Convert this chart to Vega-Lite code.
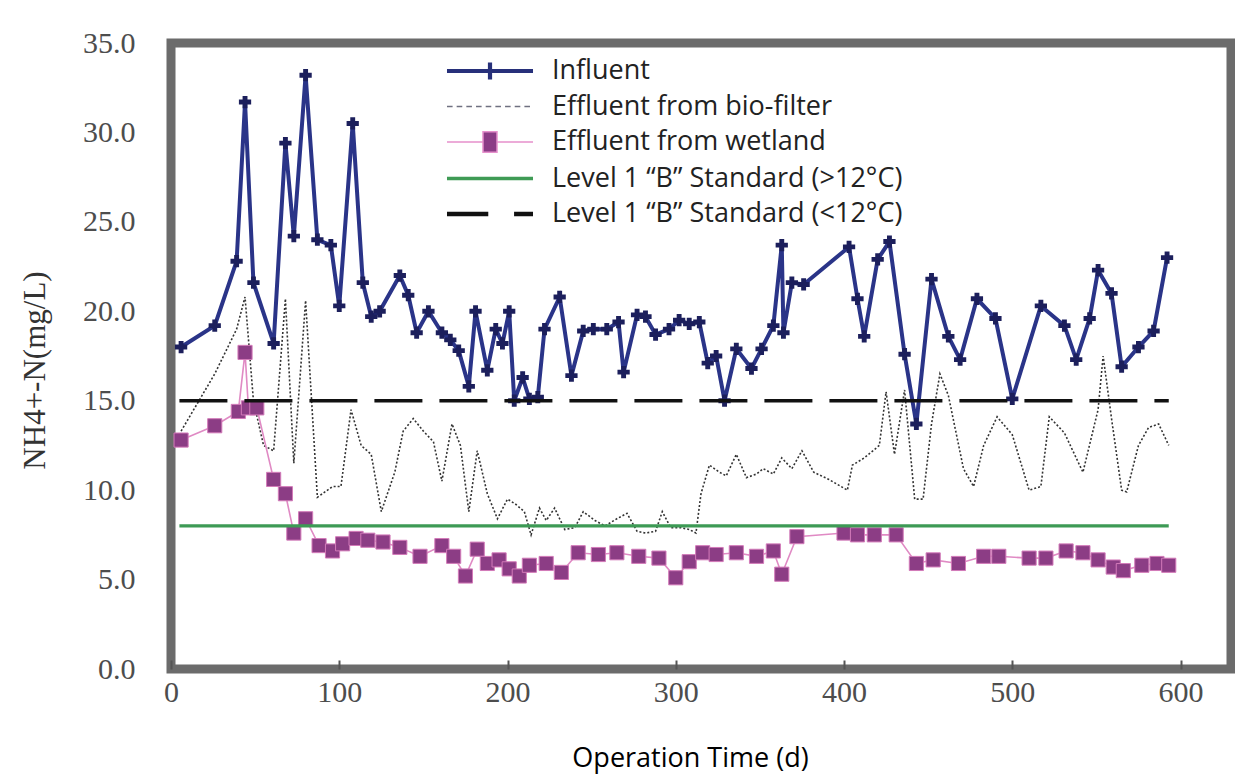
{
  "$schema": "https://vega.github.io/schema/vega-lite/v6.json",
  "width": 1060,
  "height": 626,
  "autosize": {"type": "none"},
  "padding": {"left": 171, "top": 43, "right": 4, "bottom": 109},
  "background": "white",
  "config": {
    "view": {"stroke": "#6b6b6b", "strokeWidth": 9},
    "axis": {"grid": false, "domain": false, "ticks": false},
    "legend": {"symbolFillColor": "#000000", "symbolOpacity": 1}
  },
  "datasets": {
    "influent": [
      {"day": 6, "value": 18.0}, {"day": 26, "value": 19.2}, {"day": 39, "value": 22.8}, {"day": 44, "value": 31.7},
      {"day": 49, "value": 21.6}, {"day": 61, "value": 18.2}, {"day": 68, "value": 29.4}, {"day": 73, "value": 24.2},
      {"day": 80, "value": 33.2}, {"day": 87, "value": 24.0}, {"day": 95, "value": 23.7}, {"day": 100, "value": 20.3},
      {"day": 108, "value": 30.5}, {"day": 114, "value": 21.6}, {"day": 119, "value": 19.7}, {"day": 124, "value": 20.0},
      {"day": 136, "value": 22.0}, {"day": 141, "value": 20.9}, {"day": 146, "value": 18.8}, {"day": 153, "value": 20.0},
      {"day": 161, "value": 18.8}, {"day": 166, "value": 18.4}, {"day": 171, "value": 17.8}, {"day": 177, "value": 15.8},
      {"day": 181, "value": 20.0}, {"day": 188, "value": 16.7}, {"day": 193, "value": 19.0}, {"day": 197, "value": 18.2},
      {"day": 201, "value": 20.0}, {"day": 204, "value": 15.0}, {"day": 209, "value": 16.3}, {"day": 213, "value": 15.1},
      {"day": 218, "value": 15.2}, {"day": 222, "value": 19.0}, {"day": 231, "value": 20.8}, {"day": 238, "value": 16.4},
      {"day": 245, "value": 18.9}, {"day": 251, "value": 19.0}, {"day": 259, "value": 19.0}, {"day": 266, "value": 19.4},
      {"day": 269, "value": 16.6}, {"day": 277, "value": 19.8}, {"day": 282, "value": 19.7}, {"day": 288, "value": 18.7},
      {"day": 296, "value": 19.0}, {"day": 302, "value": 19.5}, {"day": 308, "value": 19.3}, {"day": 314, "value": 19.4},
      {"day": 319, "value": 17.1}, {"day": 324, "value": 17.5}, {"day": 329, "value": 15.0}, {"day": 336, "value": 17.9},
      {"day": 345, "value": 16.8}, {"day": 351, "value": 17.9}, {"day": 358, "value": 19.2}, {"day": 363, "value": 23.7},
      {"day": 364, "value": 18.8}, {"day": 369, "value": 21.6}, {"day": 376, "value": 21.5}, {"day": 403, "value": 23.6},
      {"day": 408, "value": 20.7}, {"day": 412, "value": 18.6}, {"day": 420, "value": 22.9}, {"day": 427, "value": 23.9},
      {"day": 436, "value": 17.6}, {"day": 443, "value": 13.7}, {"day": 452, "value": 21.8}, {"day": 462, "value": 18.6},
      {"day": 469, "value": 17.3}, {"day": 479, "value": 20.7}, {"day": 490, "value": 19.6}, {"day": 500, "value": 15.1},
      {"day": 517, "value": 20.3}, {"day": 531, "value": 19.2}, {"day": 538, "value": 17.3}, {"day": 546, "value": 19.6},
      {"day": 551, "value": 22.3}, {"day": 559, "value": 21.0}, {"day": 565, "value": 16.9}, {"day": 575, "value": 18.0},
      {"day": 584, "value": 18.9}, {"day": 592, "value": 23.0}
    ],
    "biofilter": [
      {"day": 6, "value": 13.3}, {"day": 26, "value": 16.5}, {"day": 39, "value": 19.0}, {"day": 44, "value": 20.8},
      {"day": 49, "value": 15.0}, {"day": 55, "value": 12.5}, {"day": 61, "value": 12.2}, {"day": 68, "value": 20.7},
      {"day": 73, "value": 11.5}, {"day": 80, "value": 20.6}, {"day": 87, "value": 9.6}, {"day": 96, "value": 10.2},
      {"day": 101, "value": 10.2}, {"day": 107, "value": 14.5}, {"day": 113, "value": 12.5}, {"day": 119, "value": 12.0},
      {"day": 125, "value": 8.8}, {"day": 133, "value": 11.0}, {"day": 138, "value": 13.3}, {"day": 144, "value": 14.0},
      {"day": 150, "value": 13.3}, {"day": 156, "value": 12.7}, {"day": 161, "value": 10.5}, {"day": 167, "value": 13.7},
      {"day": 172, "value": 12.5}, {"day": 177, "value": 8.8}, {"day": 182, "value": 12.2}, {"day": 188, "value": 9.8},
      {"day": 194, "value": 8.4}, {"day": 200, "value": 9.5}, {"day": 205, "value": 9.2}, {"day": 210, "value": 8.8},
      {"day": 214, "value": 7.5}, {"day": 219, "value": 9.0}, {"day": 223, "value": 8.3}, {"day": 228, "value": 9.0},
      {"day": 234, "value": 7.8}, {"day": 240, "value": 7.9}, {"day": 245, "value": 8.8}, {"day": 252, "value": 8.3},
      {"day": 258, "value": 8.0}, {"day": 265, "value": 8.4}, {"day": 271, "value": 8.7}, {"day": 277, "value": 7.7},
      {"day": 282, "value": 7.6}, {"day": 288, "value": 7.7}, {"day": 292, "value": 8.8}, {"day": 297, "value": 7.9},
      {"day": 303, "value": 7.9}, {"day": 308, "value": 7.8}, {"day": 312, "value": 7.6}, {"day": 315, "value": 9.8},
      {"day": 320, "value": 11.4}, {"day": 326, "value": 11.0}, {"day": 330, "value": 10.8}, {"day": 336, "value": 12.0},
      {"day": 342, "value": 10.7}, {"day": 348, "value": 10.9}, {"day": 352, "value": 11.2}, {"day": 358, "value": 10.9},
      {"day": 363, "value": 11.8}, {"day": 369, "value": 11.2}, {"day": 375, "value": 12.2}, {"day": 382, "value": 11.0},
      {"day": 391, "value": 10.6}, {"day": 402, "value": 10.0}, {"day": 405, "value": 11.4}, {"day": 412, "value": 11.8},
      {"day": 421, "value": 12.5}, {"day": 425, "value": 15.5}, {"day": 430, "value": 12.0}, {"day": 436, "value": 15.6},
      {"day": 442, "value": 9.5}, {"day": 447, "value": 9.5}, {"day": 452, "value": 13.7}, {"day": 457, "value": 16.5},
      {"day": 462, "value": 15.3}, {"day": 471, "value": 11.2}, {"day": 477, "value": 10.2}, {"day": 483, "value": 12.5},
      {"day": 491, "value": 14.1}, {"day": 500, "value": 13.1}, {"day": 510, "value": 10.0}, {"day": 517, "value": 10.2},
      {"day": 522, "value": 14.1}, {"day": 531, "value": 13.2}, {"day": 542, "value": 11.0}, {"day": 551, "value": 14.5},
      {"day": 554, "value": 17.5}, {"day": 559, "value": 14.0}, {"day": 565, "value": 10.0}, {"day": 568, "value": 9.9},
      {"day": 575, "value": 12.5}, {"day": 581, "value": 13.5}, {"day": 587, "value": 13.7}, {"day": 593, "value": 12.5}
    ],
    "wetland": [
      {"day": 6, "value": 12.8}, {"day": 26, "value": 13.6}, {"day": 40, "value": 14.4}, {"day": 44, "value": 17.7},
      {"day": 46, "value": 14.6}, {"day": 51, "value": 14.6}, {"day": 61, "value": 10.6}, {"day": 68, "value": 9.8},
      {"day": 73, "value": 7.6}, {"day": 80, "value": 8.4}, {"day": 88, "value": 6.9}, {"day": 96, "value": 6.6},
      {"day": 102, "value": 7.0}, {"day": 110, "value": 7.3}, {"day": 117, "value": 7.2}, {"day": 126, "value": 7.1},
      {"day": 136, "value": 6.8}, {"day": 148, "value": 6.3}, {"day": 161, "value": 6.9}, {"day": 168, "value": 6.3},
      {"day": 175, "value": 5.2}, {"day": 182, "value": 6.7}, {"day": 188, "value": 5.9}, {"day": 195, "value": 6.1},
      {"day": 201, "value": 5.6}, {"day": 207, "value": 5.2}, {"day": 213, "value": 5.8}, {"day": 223, "value": 5.9},
      {"day": 232, "value": 5.4}, {"day": 242, "value": 6.5}, {"day": 254, "value": 6.4}, {"day": 265, "value": 6.5},
      {"day": 278, "value": 6.3}, {"day": 290, "value": 6.2}, {"day": 300, "value": 5.1}, {"day": 308, "value": 6.0},
      {"day": 316, "value": 6.5}, {"day": 324, "value": 6.4}, {"day": 336, "value": 6.5}, {"day": 348, "value": 6.3},
      {"day": 358, "value": 6.6}, {"day": 363, "value": 5.3}, {"day": 372, "value": 7.4}, {"day": 400, "value": 7.6},
      {"day": 408, "value": 7.5}, {"day": 418, "value": 7.5}, {"day": 431, "value": 7.5}, {"day": 443, "value": 5.9},
      {"day": 453, "value": 6.1}, {"day": 468, "value": 5.9}, {"day": 483, "value": 6.3}, {"day": 492, "value": 6.3},
      {"day": 510, "value": 6.2}, {"day": 520, "value": 6.2}, {"day": 532, "value": 6.6}, {"day": 542, "value": 6.5},
      {"day": 551, "value": 6.1}, {"day": 560, "value": 5.7}, {"day": 566, "value": 5.5}, {"day": 577, "value": 5.8},
      {"day": 586, "value": 5.9}, {"day": 593, "value": 5.8}
    ],
    "standardWarm": [{"day": 5, "value": 8.0}, {"day": 593, "value": 8.0}],
    "standardCold": [{"day": 5, "value": 15.0}, {"day": 593, "value": 15.0}],
    "legendItems": [
      {"series": "Influent"},
      {"series": "Effluent from bio-filter"},
      {"series": "Effluent from wetland"},
      {"series": "Level 1 “B” Standard (>12°C)"},
      {"series": "Level 1 “B” Standard (<12°C)"}
    ]
  },
  "encoding": {
    "x": {
      "field": "day", "type": "quantitative",
      "scale": {"domain": [0, 630], "nice": false, "zero": false},
      "axis": {
        "values": [0, 100, 200, 300, 400, 500, 600],
        "ticks": true, "tickSize": -9, "tickWidth": 2, "tickColor": "#555555",
        "labelFont": "Liberation Serif", "labelFontSize": 30, "labelColor": "#4d4d4d",
        "labelPadding": 17, "labelFlush": false,
        "title": "Operation Time (d)", "titleFont": "Open Sans", "titleFontSize": 27,
        "titleFontWeight": "normal", "titleColor": "#000000",
        "titleX": 519, "titleY": 89, "titleBaseline": "middle", "titleAlign": "center"
      }
    },
    "y": {
      "field": "value", "type": "quantitative",
      "scale": {"domain": [0, 35], "nice": false, "zero": true},
      "axis": {
        "values": [0, 5, 10, 15, 20, 25, 30, 35], "format": ".1f",
        "labelFont": "Liberation Serif", "labelFontSize": 30, "labelColor": "#4d4d4d",
        "labelPadding": 36, "labelFlush": false,
        "title": "NH4+-N(mg/L)", "titleFont": "Liberation Serif", "titleFontSize": 31,
        "titleFontWeight": "normal", "titleColor": "#333333",
        "titleAngle": -90, "titleX": -136, "titleY": 327, "titleBaseline": "middle", "titleAlign": "center"
      }
    }
  },
  "layer": [
    {
      "data": {"name": "influent"},
      "mark": {"type": "line", "color": "#2a3488", "strokeWidth": 4,
               "point": {"shape": "cross", "filled": true, "size": 150, "color": "#1c1f5c"}}
    },
    {
      "data": {"name": "biofilter"},
      "mark": {"type": "line", "color": "#333333", "strokeWidth": 1.6, "strokeDash": [2, 2]}
    },
    {
      "data": {"name": "wetland"},
      "mark": {"type": "line", "color": "#e08ac4", "strokeWidth": 1.6,
               "point": {"shape": "square", "filled": true, "size": 200, "fill": "#8c3d85", "stroke": "#d37ab9", "strokeWidth": 1}}
    },
    {
      "data": {"name": "standardWarm"},
      "mark": {"type": "line", "color": "#3d9a55", "strokeWidth": 3.2}
    },
    {
      "data": {"name": "standardCold"},
      "mark": {"type": "line", "color": "#111111", "strokeWidth": 3.5, "strokeDash": [48, 17]}
    },
    {
      "data": {"name": "legendItems"},
      "mark": {"type": "point", "filled": true},
      "encoding": {
        "fill": {
          "field": "series", "type": "nominal",
          "scale": {
            "domain": ["Influent", "Effluent from bio-filter", "Effluent from wetland", "Level 1 “B” Standard (>12°C)", "Level 1 “B” Standard (<12°C)"],
            "range": ["#27307a", "#6f7080", "#8b3c86", "#3f9b55", "#111111"]
          },
          "legend": {
            "orient": "none", "direction": "vertical", "legendX": 275, "legendY": 12,
            "title": null, "padding": 0, "symbolSize": 900, "symbolStrokeWidth": 1.5, "symbolOffset": 28,
            "labelFont": "Open Sans", "labelFontSize": 27, "labelColor": "#222222",
            "labelOffset": 46, "rowPadding": 6.5, "labelLimit": 600
          }
        },
        "stroke": {
          "field": "series", "type": "nominal",
          "scale": {
            "domain": ["Influent", "Effluent from bio-filter", "Effluent from wetland", "Level 1 “B” Standard (>12°C)", "Level 1 “B” Standard (<12°C)"],
            "range": ["transparent", "transparent", "#e690cc", "transparent", "transparent"]
          }
        },
        "shape": {
          "field": "series", "type": "nominal",
          "scale": {
            "domain": ["Influent", "Effluent from bio-filter", "Effluent from wetland", "Level 1 “B” Standard (>12°C)", "Level 1 “B” Standard (<12°C)"],
            "range": [
              "M-2.867,-0.133H2.867V0.133H-2.867Z M-0.14,-0.567H0.14V0.567H-0.14Z",
              "M-2.867,-0.057H-2.494V0.057H-2.867Z M-2.222,-0.057H-1.849V0.057H-2.222Z M-1.577,-0.057H-1.204V0.057H-1.577Z M-0.932,-0.057H-0.559V0.057H-0.932Z M-0.287,-0.057H0.086V0.057H-0.287Z M0.358,-0.057H0.731V0.057H0.358Z M1.003,-0.057H1.376V0.057H1.003Z M1.648,-0.057H2.021V0.057H1.648Z M2.293,-0.057H2.666V0.057H2.293Z",
              "M-2.867,0H-0.467 M0.467,0H2.867 M-0.467,-0.68H0.467V0.68H-0.467Z",
              "M-2.867,-0.115H2.867V0.115H-2.867Z",
              "M-2.867,-0.143H-0.115V0.143H-2.867Z M1.605,-0.143H2.867V0.143H1.605Z"
            ]
          }
        }
      }
    }
  ]
}
